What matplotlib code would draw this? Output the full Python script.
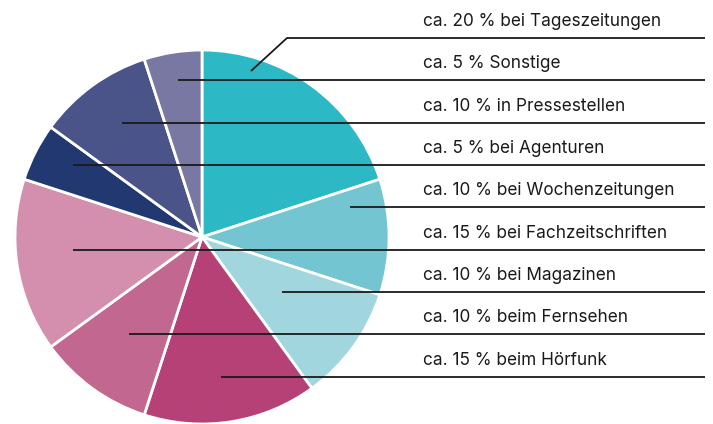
import matplotlib
matplotlib.use("Agg")
import matplotlib.pyplot as plt

plt.rcParams["font.family"] = ["Inter", "DejaVu Sans"]

# Data (clockwise from 12 o'clock)
segments = ["Tageszeitungen", "Wochenzeitungen", "Magazine", "Hörfunk", "Fernsehen",
            "Fachzeitschriften", "Agenturen", "Pressestellen", "Sonstige"]
shares = [20, 10, 10, 15, 10, 15, 5, 10, 5]
seg_colors = ["#2db8c5", "#73c6d1", "#a1d6df", "#b54176", "#c2678f",
              "#d48fae", "#223870", "#4a5488", "#7878a3"]
labels = {
    "Tageszeitungen": "ca. 20 % bei Tageszeitungen",
    "Sonstige": "ca. 5 % Sonstige",
    "Pressestellen": "ca. 10 % in Pressestellen",
    "Agenturen": "ca. 5 % bei Agenturen",
    "Wochenzeitungen": "ca. 10 % bei Wochenzeitungen",
    "Fachzeitschriften": "ca. 15 % bei Fachzeitschriften",
    "Magazine": "ca. 10 % bei Magazinen",
    "Fernsehen": "ca. 10 % beim Fernsehen",
    "Hörfunk": "ca. 15 % beim Hörfunk",
}
label_order = ["Tageszeitungen", "Sonstige", "Pressestellen", "Agenturen", "Wochenzeitungen",
               "Fachzeitschriften", "Magazine", "Fernsehen", "Hörfunk"]

# Layout (pixel space, y measured from top)
W, H = 713, 424
cx, cy, r = 202, 237, 187
line_y = [38, 80, 123, 165, 207, 250, 292, 334, 377]
line_x0 = [287, 178, 122, 73, 350, 73, 282, 129, 221]
text_x, line_x1 = 423, 705

fig = plt.figure(figsize=(W / 100, H / 100), dpi=100)
ax = fig.add_axes([0, 0, 1, 1])

ax.pie(shares, colors=seg_colors, startangle=90, counterclock=False,
       center=(cx, H - cy), radius=r, frame=True,
       wedgeprops=dict(edgecolor="white", linewidth=2))
ax.set_xlim(0, W)
ax.set_ylim(0, H)
ax.set_aspect("equal")
ax.axis("off")

for i, key in enumerate(label_order):
    y = H - line_y[i]
    xs = [line_x0[i], line_x1]
    ys = [y, y]
    if i == 0:
        # kinked leader into the Tageszeitungen wedge
        xs = [251] + xs
        ys = [H - 71] + ys
    ax.plot(xs, ys, color="#1a1a1a", lw=1.3, solid_capstyle="butt", zorder=5)
    ax.text(text_x, y + 8, labels[key], fontsize=12.4, color="#1a1a1a",
            ha="left", va="bottom")

fig.savefig("out.png", dpi=100)
